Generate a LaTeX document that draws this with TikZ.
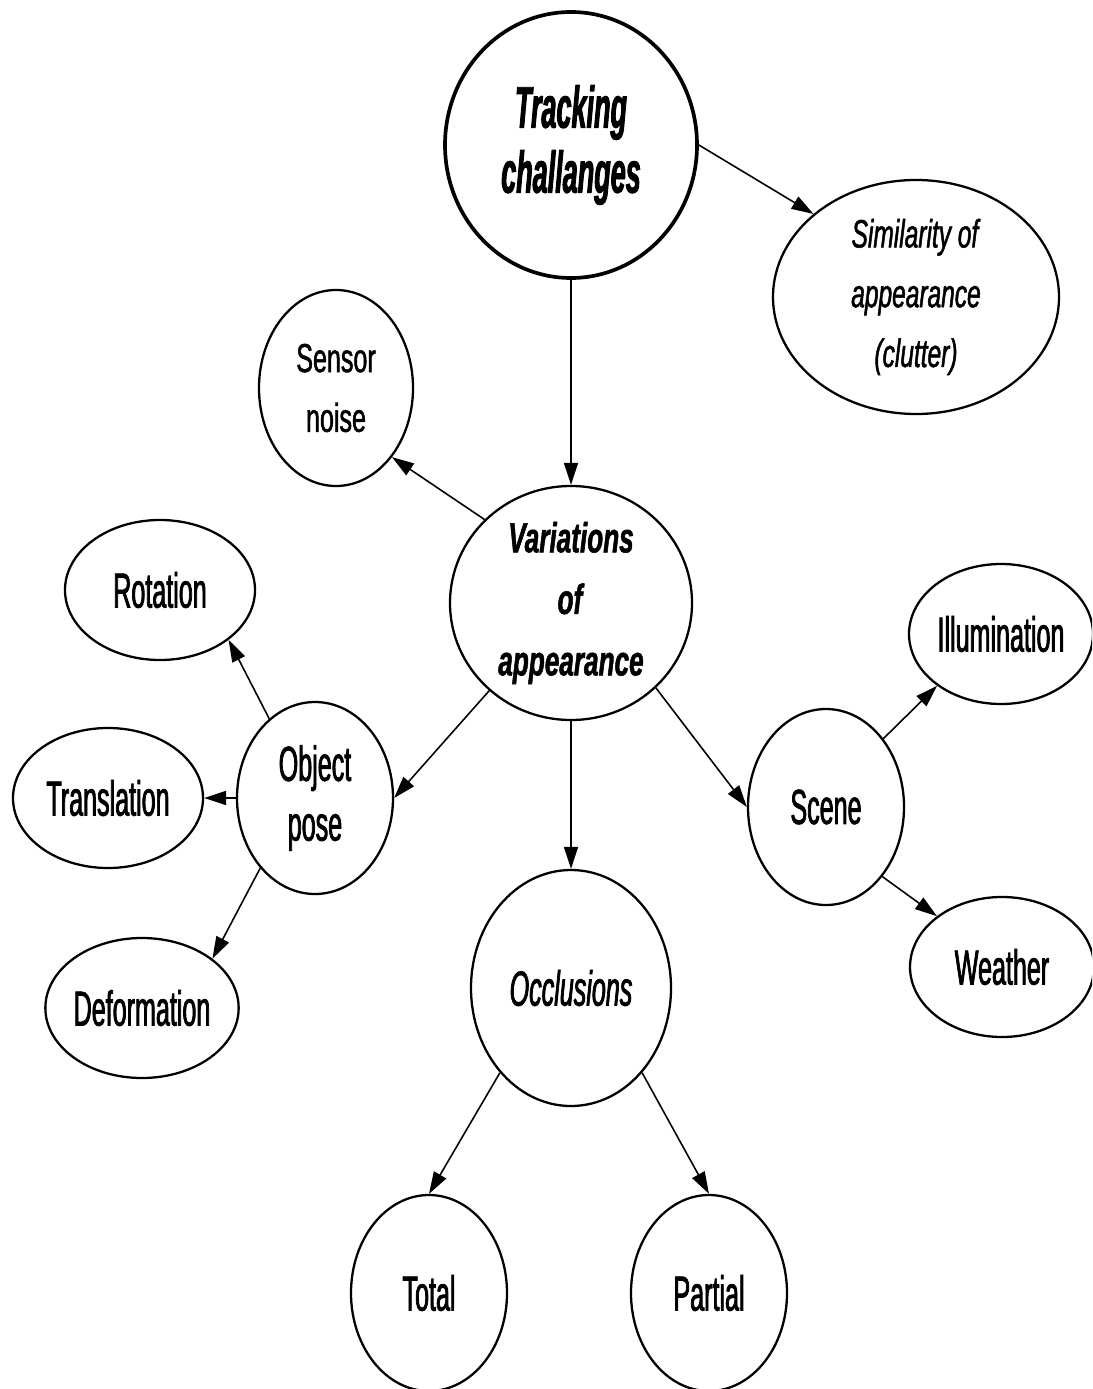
\documentclass[tikz,border=0pt]{standalone}
\usepackage{fontspec}
\setmainfont[FakeStretch=0.51,FakeBold=1.5]{Liberation Sans}
\newfontfamily\narrowface[FakeStretch=0.46,FakeBold=1.5]{Liberation Sans}
\newfontfamily\wideface[FakeStretch=0.62,FakeBold=1.2]{Liberation Sans}
\usepackage{tikz}
\usetikzlibrary{positioning,shapes.geometric,arrows.meta}
\newcommand{\topic}[1]{\textbf{\textit{#1}}}
\newcommand{\cause}[1]{\textit{#1}}

\begin{document}
\begin{tikzpicture}[
    ->,
    >={Triangle[length=0.44cm,width=0.28cm]},
    line width=0.9pt,
    on grid,
    main node/.style={ellipse,draw,line width=1.3pt,inner sep=0pt,align=center,
      font=\fontsize{28}{34}\selectfont},
    small node/.style={main node,font=\wideface\fontsize{23}{34}\selectfont},
    top node/.style={main node,line width=2.1pt,font=\narrowface\fontsize{33.4}{37}\selectfont}
    ]

    \useasboundingbox (0,0) rectangle (21.84,-27.78);
    \clip (0,0) rectangle (21.84,-27.78);

    \node[top node,minimum width=5.04cm,minimum height=5.32cm] (1) at (11.42,-2.90) {\topic{Tracking}\\\topic{challanges}};
    \node[small node,minimum width=5.72cm,minimum height=4.68cm,font=\wideface\fontsize{22.5}{34}\selectfont] (2) [below right=3.04cm and 6.90cm of 1] {\cause{Similarity of}\\\cause{appearance}\\\cause{(clutter)}};
    \node[small node,minimum width=4.84cm,minimum height=4.68cm,font=\wideface\fontsize{24}{35}\selectfont] (4) [below=9.16cm of 1] {\topic{Variations}\\\topic{of}\\\topic{appearance}};
    \node[small node,minimum width=3.08cm,minimum height=3.92cm] (3) [above left=4.30cm and 4.70cm of 4] {Sensor\\noise};
    \node[main node,minimum width=3.12cm,minimum height=3.84cm] (7) [below left=3.90cm and 5.12cm of 4] {Object\\pose};
    \node[main node,minimum width=3.12cm,minimum height=3.92cm] (9) [below right=4.08cm and 5.10cm of 4] {Scene};
    \node[main node,minimum width=4.00cm,minimum height=4.72cm] (10) [below=7.70cm of 4] {\cause{Occlusions}};
    \node[main node,minimum width=3.80cm,minimum height=2.80cm] (5) [above left=4.16cm and 3.10cm of 7] {Rotation};
    \node[main node,minimum width=3.80cm,minimum height=2.80cm] (8) [left=4.14cm of 7] {Translation};
    \node[main node,minimum width=3.80cm,minimum height=2.80cm] (12) [below left=4.20cm and 3.46cm of 7] {Deformation};
    \node[main node,minimum width=3.68cm,minimum height=2.80cm] (6) [above right=3.46cm and 3.50cm of 9] {Illumination};
    \node[main node,minimum width=3.68cm,minimum height=2.80cm] (11) [below right=3.20cm and 3.52cm of 9] {Weather};
    \node[main node,minimum width=3.12cm,minimum height=3.92cm] (13) [below left=6.10cm and 2.84cm of 10] {Total};
    \node[main node,minimum width=3.12cm,minimum height=3.92cm] (14) [below right=6.10cm and 2.76cm of 10] {Partial};

    \path[]
      (1.0) edge (2.141)
      (1.south) edge (4.north)
      (4.136) edge (3.-51)
      (4.-133) edge (7.east)
      (4.south) edge (10.north)
      (4.-45) edge (9.west)
      (7.120) edge (5.-36)
      (7.west) edge (8.east)
      (7.-128) edge (12.35)
      (9.50) edge (6.-141)
      (9.-51) edge (11.142)
      (10.-130) edge (13.north)
      (10.-50) edge (14.north);
  \end{tikzpicture}
\end{document}
